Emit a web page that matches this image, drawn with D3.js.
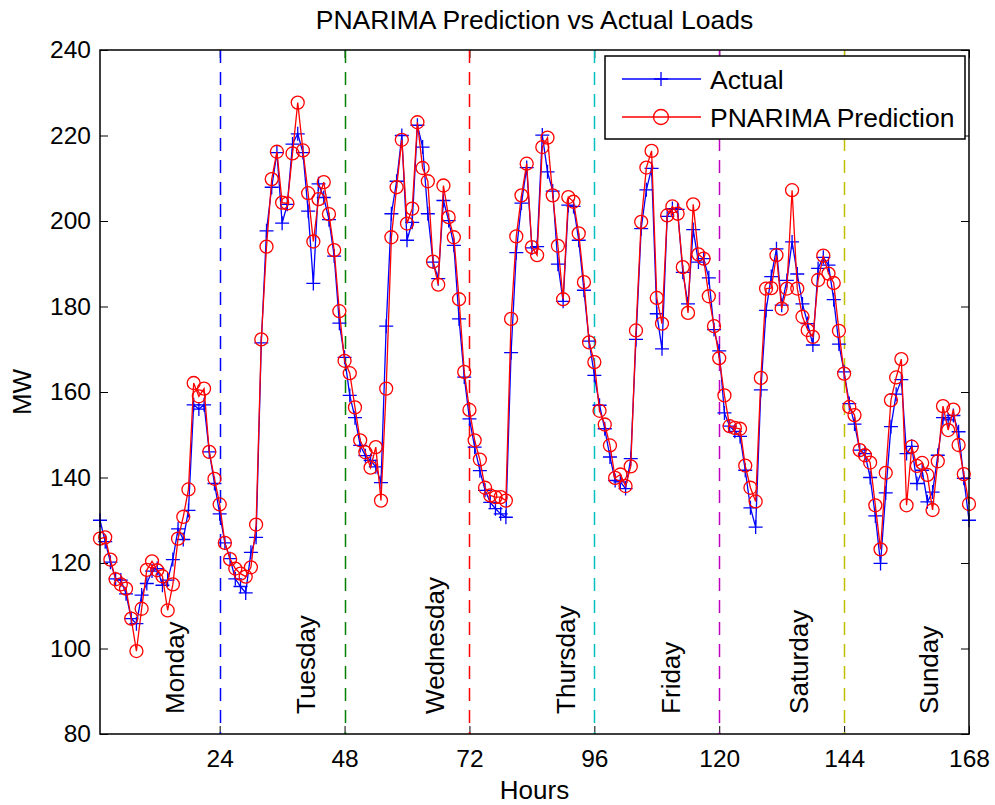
<!DOCTYPE html>
<html>
<head>
<meta charset="utf-8">
<script src="https://cdn.jsdelivr.net/npm/d3@7"></script>
<style>
  body { margin: 0; background: #fff; }
  svg { display: block; }
  text { font-family: "Liberation Sans", Arial, Helvetica, sans-serif; fill: #000; }
</style>
</head>
<body>
<svg id="chart" width="995" height="805"></svg>
<script>
// Hourly load over one week (MW), hours 1..168
const actualLoad = [
  130, 125, 120.2, 116.3, 116, 112.8, 107, 105.8, 112.5, 115.2, 118.1, 118.7,
  114.8, 116, 120.8, 128, 125.5, 132.3, 157, 156, 157, 146, 138.6, 131.5,
  124.7, 121, 116.3, 114.5, 113, 122.5, 126, 171.5, 197.7, 207.9, 216, 199.5,
  203.9, 218, 220.4, 216, 202.3, 185.4, 208.7, 205.5, 200.3, 191.8, 176.1, 168.1,
  159.2, 154, 147.5, 145.1, 144, 142.5, 138.8, 175.4, 201.7, 209.3, 220, 195.5,
  199.7, 222.4, 217.3, 201.7, 190.4, 186.5, 204.8, 200.1, 194.3, 177.1, 163.5, 153.7,
  147.1, 141.6, 137, 134.2, 132.7, 131.5, 130.7, 169.2, 192.6, 204.2, 212.5, 193.7,
  194, 220.1, 211.5, 207, 189.9, 181.2, 203.7, 203.4, 195.5, 183.8, 171.9, 163.9,
  156.9, 151.4, 144.8, 139.3, 139, 137.4, 144.4, 172.3, 198.2, 207.3, 212.3, 178.3,
  170.1, 201.1, 202.9, 202.7, 188, 180.6, 198, 190.4, 191.2, 186.7, 174.6, 169.6,
  155.1, 152, 150.8, 149.6, 141.7, 132.9, 128.4, 160.5, 179.1, 187, 193.5, 180.3,
  186.1, 195.1, 187.6, 180.6, 176, 171, 188.9, 191.5, 189.7, 181.6, 171.2, 164.7,
  157.3, 152.5, 146.4, 145.6, 140, 131, 119.9, 136.4, 151.9, 159.5, 162.9, 145.6,
  147.3, 138.6, 141.7, 134.3, 136.6, 145.2, 154, 153.5, 154.5, 150.7, 139.8, 130
];
const predictedLoad = [
  125.7, 126, 120.8, 116.2, 115, 114, 107, 99.4, 109.3, 118.4, 120.4, 118.3,
  116.9, 108.9, 115, 125.7, 130.8, 137.2, 162.1, 159, 160.8, 146, 139.7, 133.7,
  124.7, 120.9, 118.7, 117.5, 116.8, 119, 129, 172.3, 194, 209.8, 216.2, 204.3,
  204.1, 215.8, 227.7, 216.5, 206.5, 195.2, 205.1, 209.1, 201.6, 193.2, 178.9, 167.3,
  164.4, 156.4, 148.7, 145.9, 142.3, 147.1, 134.6, 160.8, 196.2, 207.9, 219, 199.4,
  202.9, 223.1, 212.4, 209.3, 190.5, 185.1, 208.3, 200.9, 196.2, 181.7, 164.7, 155.8,
  148.7, 144.2, 137.6, 135.8, 135.4, 135.4, 134.6, 177.1, 196.4, 206, 213.4, 193.9,
  192, 217.3, 219.5, 206, 194.2, 181.7, 205.6, 204.5, 197.1, 185.7, 171.6, 167,
  155.6, 152.4, 147.5, 139.9, 140.7, 138, 142.6, 174.4, 199.8, 212.5, 216.4, 182,
  176, 201.3, 203.4, 201.7, 189.2, 178.5, 203.9, 192.2, 191.2, 182.4, 175.4, 167.9,
  159.2, 152, 151.6, 151.4, 142.8, 137.6, 134.4, 163.3, 184.2, 184.3, 192, 179.5,
  184.2, 207.2, 184.2, 177.6, 174.5, 172.9, 186.2, 191.9, 187.7, 185.5, 174.3, 164.3,
  156.5, 154.6, 146.4, 145.2, 143.5, 133.5, 123.2, 141.1, 158.1, 163.4, 167.7, 133.5,
  147.2, 142.7, 143.4, 140.6, 132.4, 143.8, 156.7, 151.1, 155.9, 147.6, 140.8, 133.8
];
const hourTicks = [24, 48, 72, 96, 120, 144, 168];
const loadTicks = [80, 100, 120, 140, 160, 180, 200, 220, 240];
const dayBoundaries = [24, 48, 72, 96, 120, 144];
const boundaryColors = ["#0000ff", "#008000", "#ff0000", "#00bfbf", "#bf00bf", "#bfbf00"];
const dayNames = ["Monday", "Tuesday", "Wednesday", "Thursday", "Friday", "Saturday", "Sunday"];
const dayLabelHours = [15.4, 40.6, 65.4, 90.4, 110.6, 135.3, 160.2];
const dayLabelLoad = 84.7;
const seriesNames = ["Actual", "PNARIMA Prediction"];

const svg = d3.select("#chart");
const plot = { left: 100, top: 50, right: 969, bottom: 734 };
const x = d3.scaleLinear().domain([1, 168]).range([plot.left, plot.right]);
const y = d3.scaleLinear().domain([80, 240]).range([plot.bottom, plot.top]);
const hours = actualLoad.map((_, i) => i + 1);

svg.append("rect").attr("width", 995).attr("height", 805).attr("fill", "#fff");

// Inward ticks on all four sides
const tickFont = 24.5;
const gLeft = svg.append("g").attr("transform", `translate(${plot.left},0)`)
  .call(d3.axisLeft(y).tickValues(loadTicks).tickSize(-8).tickSizeOuter(0).tickPadding(9));
const gRight = svg.append("g").attr("transform", `translate(${plot.right},0)`)
  .call(d3.axisRight(y).tickValues(loadTicks).tickSize(-8).tickSizeOuter(0).tickFormat(""));
const gBottom = svg.append("g").attr("transform", `translate(0,${plot.bottom})`)
  .call(d3.axisBottom(x).tickValues(hourTicks).tickSize(-8).tickSizeOuter(0).tickPadding(16));
const gTop = svg.append("g").attr("transform", `translate(0,${plot.top})`)
  .call(d3.axisTop(x).tickValues(hourTicks).tickSize(-8).tickSizeOuter(0).tickFormat(""));
[gLeft, gRight, gBottom, gTop].forEach(g => {
  g.select(".domain").remove();
  g.selectAll(".tick line").attr("stroke", "#000").attr("stroke-width", 1);
  g.selectAll("text").attr("font-size", tickFont)
    .attr("font-family", '"Liberation Sans", Arial, sans-serif').attr("fill", "#000");
});

// Dashed day separators
svg.append("g").selectAll("line").data(dayBoundaries).join("line")
  .attr("x1", d => Math.round(x(d)) + 0.5).attr("x2", d => Math.round(x(d)) + 0.5)
  .attr("y1", plot.top).attr("y2", plot.bottom)
  .attr("stroke", (d, i) => boundaryColors[i])
  .attr("stroke-width", 1.5)
  .attr("stroke-dasharray", "13,9");

// Series
const lineGen = vals => d3.line().x((d, i) => x(hours[i])).y(d => y(d))(vals);
const plus = "M-7,0H7M0,-7V7";

svg.append("path").attr("d", lineGen(actualLoad))
  .attr("fill", "none").attr("stroke", "#0000ff").attr("stroke-width", 1.3);
svg.append("g").selectAll("path").data(actualLoad).join("path")
  .attr("transform", (d, i) => `translate(${x(hours[i])},${y(d)})`)
  .attr("d", plus).attr("stroke", "#0000ff").attr("stroke-width", 1.3).attr("fill", "none");

svg.append("path").attr("d", lineGen(predictedLoad))
  .attr("fill", "none").attr("stroke", "#ff0000").attr("stroke-width", 1.3);
svg.append("g").selectAll("circle").data(predictedLoad).join("circle")
  .attr("cx", (d, i) => x(hours[i])).attr("cy", d => y(d)).attr("r", 6.5)
  .attr("fill", "none").attr("stroke", "#ff0000").attr("stroke-width", 1.3);

// Day names, rotated
svg.append("g").selectAll("text").data(dayNames).join("text")
  .attr("transform", (d, i) => `translate(${x(dayLabelHours[i])},${y(dayLabelLoad)}) rotate(-90)`)
  .attr("dy", "0.36em")
  .attr("text-anchor", "start")
  .attr("font-size", 26)
  .text(d => d);

// Plot frame
svg.append("rect")
  .attr("x", plot.left).attr("y", plot.top)
  .attr("width", plot.right - plot.left).attr("height", plot.bottom - plot.top)
  .attr("fill", "none").attr("stroke", "#000").attr("stroke-width", 1.5);

// Title and axis labels
svg.append("text").attr("x", (plot.left + plot.right) / 2).attr("y", 29)
  .attr("text-anchor", "middle").attr("font-size", 26.5)
  .text("PNARIMA Prediction vs Actual Loads");
svg.append("text").attr("x", (plot.left + plot.right) / 2).attr("y", 799)
  .attr("text-anchor", "middle").attr("font-size", 26).text("Hours");
svg.append("text")
  .attr("transform", `translate(22,${(plot.top + plot.bottom) / 2}) rotate(-90)`)
  .attr("dy", "0.36em").attr("text-anchor", "middle").attr("font-size", 26).text("MW");

// Legend
const legend = svg.append("g").attr("transform", "translate(605,56)");
legend.append("rect").attr("width", 360).attr("height", 83)
  .attr("fill", "#fff").attr("stroke", "#000").attr("stroke-width", 1.5);
const rows = legend.selectAll("g.row").data(seriesNames).join("g")
  .attr("class", "row")
  .attr("transform", (d, i) => `translate(0,${23 + i * 38})`);
rows.append("line").attr("x1", 17).attr("x2", 96).attr("y1", 0).attr("y2", 0)
  .attr("stroke", (d, i) => i === 0 ? "#0000ff" : "#ff0000").attr("stroke-width", 1.3);
rows.filter((d, i) => i === 0).append("path")
  .attr("transform", "translate(56,0)").attr("d", plus)
  .attr("stroke", "#0000ff").attr("stroke-width", 1.3);
rows.filter((d, i) => i === 1).append("circle")
  .attr("cx", 56).attr("cy", 0).attr("r", 7.5)
  .attr("fill", "none").attr("stroke", "#ff0000").attr("stroke-width", 1.3);
rows.append("text").attr("x", 105).attr("y", 0).attr("dy", "0.36em")
  .attr("font-size", 26.5).text(d => d);
</script>
</body>
</html>
